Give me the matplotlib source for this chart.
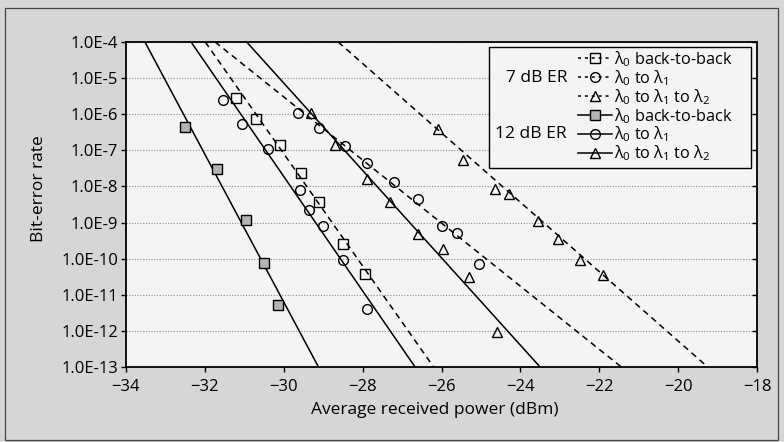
import numpy as np
import matplotlib
matplotlib.use("Agg")
import matplotlib.pyplot as plt
from matplotlib.patches import Rectangle
from matplotlib.ticker import FixedLocator, FuncFormatter, NullLocator

plt.rcParams['font.family'] = ['Open Sans', 'DejaVu Sans']
plt.rcParams['mathtext.fontset'] = 'custom'
plt.rcParams['mathtext.rm'] = 'Open Sans'
plt.rcParams['mathtext.it'] = 'Open Sans'

# 7 dB ER (dashed, open markers)
b2b_7_x = [-31.2, -30.7, -30.1, -29.55, -29.1, -28.5, -27.95]
b2b_7_ber = [2.9e-6, 7.2e-7, 1.4e-7, 2.4e-8, 3.6e-9, 2.6e-10, 3.7e-11]
l1_7_x = [-29.65, -29.1, -28.45, -27.9, -27.2, -26.6, -26.0, -25.6, -25.05]
l1_7_ber = [1.05e-6, 4.2e-7, 1.3e-7, 4.6e-8, 1.3e-8, 4.6e-9, 7.9e-10, 5.3e-10, 7.2e-11]
l2_7_x = [-26.1, -25.45, -24.65, -24.3, -23.55, -23.05, -22.5, -21.9]
l2_7_ber = [4.0e-7, 5.5e-8, 8.7e-9, 6.3e-9, 1.1e-9, 3.5e-10, 8.9e-11, 3.5e-11]

# 12 dB ER (solid)
b2b_12_x = [-32.5, -31.7, -30.95, -30.5, -30.15]
b2b_12_ber = [4.5e-7, 3.1e-8, 1.2e-9, 7.6e-11, 5.1e-12]
l1_12_x = [-31.55, -31.05, -30.4, -29.6, -29.35, -29.0, -28.5, -27.9]
l1_12_ber = [2.5e-6, 5.2e-7, 1.1e-7, 7.8e-9, 2.2e-9, 7.9e-10, 9e-11, 4e-12]
l2_12_x = [-29.3, -28.7, -27.9, -27.3, -26.6, -25.95, -25.3, -24.6]
l2_12_ber = [1.1e-6, 1.4e-7, 1.6e-8, 3.7e-9, 4.9e-10, 1.9e-10, 3.1e-11, 9.3e-13]

# fitted lines (ends at 1E-4 and 1E-13)
fit_ber = [1e-4, 1e-13]
fit_b2b_7 = [-31.99, -26.2]
fit_l1_7 = [-31.74, -21.44]
fit_l2_7 = [-28.62, -19.25]
fit_b2b_12 = [-33.52, -29.12]
fit_l1_12 = [-32.35, -26.67]
fit_l2_12 = [-30.94, -23.5]

labels = ['λ$_0$ back-to-back', 'λ$_0$ to λ$_1$', 'λ$_0$ to λ$_1$ to λ$_2$']

fig = plt.figure(figsize=(7.84, 4.42), dpi=100, facecolor='#d6d6d6')
ax = fig.add_axes([126/784, 75/442, 631/784, 325/442], facecolor='#f4f4f4')

fig.patches.append(Rectangle((5/784, 2/442), 773/784, 432/442, transform=fig.transFigure,
                             fill=False, ec='#444444', lw=0.9))

dash = (4, 3)
lw = 1.1
mk = dict(ms=7, mew=1.0, mec='black', color='black', lw=lw)

series = [
    (b2b_7_x, b2b_7_ber, fit_b2b_7, 's', 'none', '--'),
    (l1_7_x, l1_7_ber, fit_l1_7, 'o', 'none', '--'),
    (l2_7_x, l2_7_ber, fit_l2_7, '^', 'none', '--'),
    (b2b_12_x, b2b_12_ber, fit_b2b_12, 's', '#b4b4b4', '-'),
    (l1_12_x, l1_12_ber, fit_l1_12, 'o', 'none', '-'),
    (l2_12_x, l2_12_ber, fit_l2_12, '^', 'none', '-'),
]

handles = []
for xs, ys, fx, m, fc, ls in series:
    if ls == '--':
        ax.plot(fx, fit_ber, color='black', lw=lw, dashes=dash, zorder=2)
    else:
        ax.plot(fx, fit_ber, color='black', lw=lw, zorder=2)
    ax.plot(xs, ys, m, mfc=fc, mec='black', ms=7, mew=1.0, ls='none', zorder=3)
    h, = ax.plot([], [], marker=m, mfc=fc, **mk)
    if ls == '--':
        h.set_dashes((2, 2.5))
    handles.append(h)

ax.set_yscale('log')
ax.set_ylim(1e-13, 1e-4)
ax.set_xlim(-34, -18)
ax.set_xticks(np.arange(-34, -17, 2))
ax.yaxis.set_major_locator(FixedLocator([10.0 ** -k for k in range(4, 14)]))
ax.yaxis.set_minor_locator(NullLocator())
ax.yaxis.set_major_formatter(FuncFormatter(lambda v, p: '1.0E-%d' % round(-np.log10(v))))

ax.grid(axis='y', color='#8c8c8c', lw=0.8, ls=(0, (1, 1.5)))
ax.set_axisbelow(True)

for s in ax.spines.values():
    s.set_linewidth(1.3)
ax.tick_params(axis='both', labelsize=12, length=3.5, width=1.0, direction='out', pad=2)
ax.tick_params(axis='x', pad=5)
ax.yaxis.set_tick_params(which='major', right=True)
for t in ax.yaxis.get_ticklines()[1::2]:
    t.set_marker(0)

ax.set_xlabel('Average received power (dBm)', fontsize=12.5)
ax.xaxis.set_label_coords(0.49, -0.132)
ax.xaxis.label.set_va('center')
ax.set_ylabel('Bit-error rate', fontsize=12.5)
ax.yaxis.set_label_coords(-0.125, 0.548)

ax.add_patch(Rectangle((0.575, 0.612), 0.415, 0.373, transform=ax.transAxes,
                       fc='#f4f4f4', ec='black', lw=1.0, zorder=4))
leg = ax.legend(handles, labels * 2, loc='upper left', bbox_to_anchor=(0.716, 0.978),
                frameon=False, fontsize=11.7, handlelength=2.1, handletextpad=0.15,
                labelspacing=-0.05, borderpad=0.0, borderaxespad=0.0)
leg.set_zorder(5)
ax.text(0.699, 0.889, '7 dB ER', transform=ax.transAxes, ha='right', va='center',
        fontsize=12.5, zorder=6)
ax.text(0.699, 0.717, '12 dB ER', transform=ax.transAxes, ha='right', va='center',
        fontsize=12.5, zorder=6)

fig.savefig('out.png', dpi=100, facecolor=fig.get_facecolor())
